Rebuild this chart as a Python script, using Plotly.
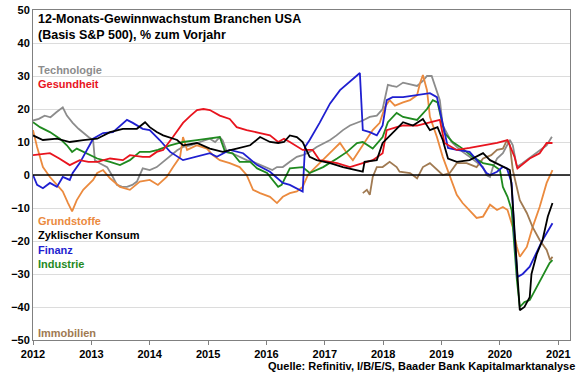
import plotly.graph_objects as go

# ---- data: (decimal year, % y/y) ----
tech_t = [2012.00, 2012.10, 2012.20, 2012.30, 2012.40, 2012.51, 2012.58, 2012.68, 2012.78, 2012.86, 2012.95,
          2013.03, 2013.06, 2013.15, 2013.27, 2013.35, 2013.44, 2013.52, 2013.61, 2013.70, 2013.78, 2013.88,
          2014.00, 2014.12, 2014.23, 2014.35, 2014.47, 2014.57, 2014.70, 2014.81, 2014.95, 2015.03, 2015.12,
          2015.20, 2015.25, 2015.32, 2015.42, 2015.54, 2015.66, 2015.77, 2015.89, 2016.01, 2016.10, 2016.18,
          2016.28, 2016.40, 2016.52, 2016.62, 2016.74, 2016.86, 2016.97, 2017.09, 2017.20, 2017.31, 2017.43,
          2017.55, 2017.65, 2017.77, 2017.89, 2017.99, 2018.03, 2018.08, 2018.15, 2018.23, 2018.34, 2018.46,
          2018.58, 2018.68, 2018.75, 2018.83, 2018.90, 2018.97, 2019.02, 2019.09, 2019.17, 2019.26, 2019.36,
          2019.48, 2019.60, 2019.71, 2019.77, 2019.83, 2019.88, 2019.95, 2020.05, 2020.12, 2020.17, 2020.22,
          2020.29, 2020.38, 2020.51, 2020.60, 2020.72, 2020.80, 2020.89]
tech_v = [16.5, 17, 18, 17.5, 19, 20.5, 18, 15.8, 14, 12.7, 11.5,
          10.6, 4.5, 3.5, 2.4, 0, -3, -3.5, -3.6, -3, -2, 2,
          1.5, 2.4, 4, 6, 7.5, 8.5, 9, 9.7, 10.5, 11, 10,
          11.5, 10.5, 7, 6.5, 5.5, 4.5, 4, 3, 2, 1.5, 2.4,
          2.4, 4, 5.5, 6, 7, 8.5, 9.5, 10.6, 12, 13.6, 15,
          15.8, 16.5, 17.6, 18, 20, 23.6, 27.3, 27, 26.7, 28, 27.5,
          27, 28.5, 30, 30, 26, 22.7, 15, 12.7, 10, 8.5, 7,
          5.5, 4, 2.4, 0, -0.6, 2.4, 5, 6.6, 9, 10.6, 9,
          2.4, 3.5, 5.2, 6.5, 8.2, 9, 11.6]

health_t = [2012.00, 2012.15, 2012.29, 2012.45, 2012.63, 2012.80, 2012.95, 2013.10, 2013.32, 2013.54, 2013.66,
            2013.88, 2014.00, 2014.12, 2014.23, 2014.40, 2014.57, 2014.70, 2014.81, 2014.92, 2015.03, 2015.20,
            2015.37, 2015.49, 2015.66, 2015.89, 2016.06, 2016.20, 2016.30, 2016.40, 2016.62, 2016.79, 2016.91,
            2017.21, 2017.43, 2017.65, 2017.82, 2017.99, 2018.06, 2018.23, 2018.34, 2018.58, 2018.80, 2018.97,
            2019.05, 2019.26, 2019.48, 2019.71, 2019.95, 2020.13, 2020.25, 2020.30, 2020.51, 2020.68, 2020.80,
            2020.90]
health_v = [6, 6.3, 6.6, 5, 3, 4.5, 4, 4, 5, 4.5, 6,
            5.5, 5.5, 7, 7.6, 11.6, 15.8, 18, 19.7, 20, 19.7, 18,
            17, 14.5, 13.6, 12.7, 12, 10, 11, 10, 7.6, 7.6, 4.5,
            3.6, 2.4, 3.6, 4.5, 6.6, 13.6, 14.5, 15, 15, 16, 16.7,
            9.7, 7.6, 8.2, 9, 9.7, 10.6, 5.5, 2, 5, 6.6, 9.7,
            9.7]

cons_t = [2012.00, 2012.17, 2012.41, 2012.63, 2012.86, 2013.10, 2013.32, 2013.54, 2013.78, 2013.92, 2014.00,
          2014.12, 2014.23, 2014.47, 2014.57, 2014.81, 2015.03, 2015.25, 2015.49, 2015.72, 2015.89, 2016.06,
          2016.20, 2016.30, 2016.40, 2016.52, 2016.62, 2016.74, 2016.86, 2017.09, 2017.31, 2017.55, 2017.65,
          2017.68, 2017.89, 2017.99, 2018.11, 2018.23, 2018.34, 2018.51, 2018.68, 2018.80, 2018.93, 2019.02,
          2019.11, 2019.26, 2019.48, 2019.71, 2019.83, 2020.05, 2020.17, 2020.20, 2020.29, 2020.34, 2020.42,
          2020.51, 2020.54, 2020.63, 2020.73, 2020.82, 2020.90]
cons_v = [12, 10.6, 11, 10, 10.6, 11, 13, 14, 14, 16, 14.5,
          13, 12, 10.6, 9, 9.7, 8, 7, 8, 9, 11.5, 10,
          9.7, 10, 12, 11.5, 10, 5.5, 4.5, 3.6, 2.4, 1.5, 1,
          4, 4.5, 9.7, 12, 14, 16, 15, 17, 13.6, 14.5, 10.6,
          5, 4, 4.5, 6.6, 4.5, 2.4, 1.5, -3.6, -26, -41, -40,
          -37, -30, -24, -19.7, -12.6, -8.5]

fin_t = [2012.00, 2012.07, 2012.17, 2012.29, 2012.41, 2012.51, 2012.63, 2012.68, 2012.80, 2012.92, 2013.03,
         2013.20, 2013.37, 2013.61, 2013.71, 2013.88, 2014.00, 2014.17, 2014.35, 2014.57, 2014.81, 2015.03,
         2015.15, 2015.37, 2015.60, 2015.84, 2016.06, 2016.20, 2016.28, 2016.40, 2016.52, 2016.62, 2016.66,
         2016.74, 2016.91, 2017.09, 2017.26, 2017.43, 2017.60, 2017.65, 2017.77, 2017.89, 2017.99, 2018.06,
         2018.16, 2018.34, 2018.58, 2018.80, 2018.92, 2019.02, 2019.11, 2019.26, 2019.48, 2019.65, 2019.77,
         2019.83, 2019.95, 2020.05, 2020.12, 2020.20, 2020.25, 2020.30, 2020.39, 2020.51, 2020.63, 2020.73,
         2020.90]
fin_v = [0, -3, -4, -2.4, -3.6, -0.6, -1.5, 0.6, 3.6, 7.6, 11,
         12.7, 13, 16.7, 15.8, 14, 13.6, 10.6, 7, 4.5, 5.5, 6.6,
         5.5, 7.6, 6.6, 3, 1, -1, -2.4, -3, -4, -5, 8.5,
         10.6, 15.8, 21.7, 25.7, 28.2, 30.9, 13.6, 13, 12, 15, 22.7,
         23.6, 23.6, 24.2, 24.8, 23.6, 15.8, 8.2, 7.6, 7, 3.6, 0.6,
         0, 1, 2.5, 2, -2.4, -18.8, -30.9, -30, -27.8, -23.6, -19.7,
         -14.6]

ind_t = [2012.00, 2012.12, 2012.29, 2012.46, 2012.58, 2012.67, 2012.75, 2012.92, 2013.10, 2013.32, 2013.49,
         2013.66, 2013.83, 2014.00, 2014.14, 2014.35, 2014.57, 2014.81, 2015.03, 2015.20, 2015.29, 2015.42,
         2015.54, 2015.72, 2015.84, 2016.01, 2016.20, 2016.26, 2016.40, 2016.62, 2016.74, 2016.97, 2017.21,
         2017.38, 2017.55, 2017.65, 2017.82, 2017.99, 2018.08, 2018.23, 2018.34, 2018.58, 2018.75, 2018.85,
         2018.93, 2019.05, 2019.19, 2019.36, 2019.53, 2019.71, 2019.88, 2020.00, 2020.05, 2020.13, 2020.20,
         2020.29, 2020.34, 2020.42, 2020.51, 2020.63, 2020.73, 2020.85, 2020.90]
ind_v = [16, 14.5, 13, 11, 9, 7, 8, 6.6, 5, 4, 3,
         4.5, 7, 7, 7.6, 9, 10, 10.6, 11, 11.5, 7, 6.6,
         4, 4, 2, 0.6, -3.6, -3, 2, 2.4, 0.6, 2.4, 5,
         7, 9.7, 10, 8, 11.5, 16, 18.8, 17.6, 16.7, 20, 22.7,
         22, 12.7, 10, 8, 5.5, 3.6, 3, 1.5, -3.6, -6.6, -10.6,
         -31.8, -40, -38.5, -37.9, -33.9, -30.3, -26.7, -25.8]

mat_t = [2012.00, 2012.07, 2012.17, 2012.29, 2012.41, 2012.51, 2012.60, 2012.67, 2012.75, 2012.86, 2013.03,
         2013.10, 2013.20, 2013.32, 2013.49, 2013.66, 2013.83, 2014.00, 2014.14, 2014.29, 2014.40, 2014.52,
         2014.57, 2014.64, 2014.81, 2014.98, 2015.08, 2015.20, 2015.37, 2015.54, 2015.66, 2015.77, 2015.89,
         2016.06, 2016.18, 2016.28, 2016.40, 2016.52, 2016.62, 2016.71, 2016.79, 2016.97, 2017.14, 2017.26,
         2017.38, 2017.48, 2017.60, 2017.72, 2017.82, 2017.94, 2018.03, 2018.11, 2018.20, 2018.34, 2018.46,
         2018.58, 2018.63, 2018.68, 2018.75, 2018.80, 2018.92, 2019.02, 2019.14, 2019.26, 2019.36, 2019.48,
         2019.60, 2019.71, 2019.83, 2019.95, 2020.05, 2020.13, 2020.22, 2020.29, 2020.34, 2020.46, 2020.56,
         2020.68, 2020.80, 2020.90]
mat_v = [13.6, 8.5, 2.4, -0.6, -3, -5, -8.5, -11, -7.6, -4.5, -1.5,
         0.6, 1.5, -1, -3.6, -4.5, -2, -1.5, -3, -0.6, 2.4, 5.5,
         11.5, 7.6, 9, 8, 6, 4.5, 3.6, 2.4, 0, -4.5, -5.5,
         -6.6, -8.5, -6.6, -5.5, -5, -3.6, 0, 1.5, 4.5, 7.6, 9.7,
         6.6, 4.5, 7.6, 11, 13.6, 15.8, 20.6, 22.7, 21, 22, 22.7,
         24.2, 27.8, 30.3, 25.7, 17.6, 11.5, 5.5, 0, -6, -8.5, -10.6,
         -13, -12.6, -9, -10.6, -9.7, -10.6, -15.8, -21.8, -24.8, -21.8, -15.8,
         -9.7, -2.4, 1.5]

re_t = [2017.65, 2017.72, 2017.77, 2017.82, 2017.89, 2017.99, 2018.11, 2018.23, 2018.28, 2018.46, 2018.58,
        2018.68, 2018.80, 2018.92, 2019.02, 2019.14, 2019.26, 2019.43, 2019.60, 2019.71, 2019.85, 2019.95,
        2020.05, 2020.12, 2020.17, 2020.22, 2020.34, 2020.46, 2020.56, 2020.68, 2020.80, 2020.86, 2020.90]
re_v = [-5.5, -4.5, -6, -0.6, 2.4, 2.4, 4, 2.4, 1, 0.6, -1,
        2.4, 3.6, 1.5, 0, 0.6, 3.6, 3.6, 2.4, 5, 6, 7.6,
        8, 10.6, 9, 1.5, -7.6, -11.5, -15.8, -19.7, -22.7, -25.8, -24.8]

year_ticks = [2012, 2013, 2014, 2015, 2016, 2017, 2018, 2019, 2020, 2021]
y_ticks = [50, 40, 30, 20, 10, 0, -10, -20, -30, -40, -50]

C_TECH = "#8C8C8C"
C_HEALTH = "#E8141E"
C_MAT = "#EB8A3E"
C_CONS = "#000000"
C_FIN = "#1F1FD0"
C_IND = "#1F8A1F"
C_RE = "#A07A52"

FONT = "Liberation Sans"

series = [
    ("Technologie", tech_t, tech_v, C_TECH),
    ("Grundstoffe", mat_t, mat_v, C_MAT),
    ("Immobilien", re_t, re_v, C_RE),
    ("Industrie", ind_t, ind_v, C_IND),
    ("Finanz", fin_t, fin_v, C_FIN),
    ("Gesundheit", health_t, health_v, C_HEALTH),
    ("Zyklischer Konsum", cons_t, cons_v, C_CONS),
]

fig = go.Figure()
for name, t, v, c in series:
    fig.add_trace(go.Scatter(x=t, y=v, mode="lines", name=name,
                             line=dict(color=c, width=1.8), showlegend=False))

# zero line
fig.add_shape(type="line", xref="paper", yref="y", x0=0, x1=1, y0=0, y1=0,
              line=dict(color="black", width=1.6), layer="above")

W, H = 580, 375
L, R, T, B = 33, 10, 10, 35
pw, ph = W - L - R, H - T - B

def px(x):
    return (x - L) / pw

def py(y):
    return (H - B - y) / ph

labels = [
    ("12-Monats-Gewinnwachstum Branchen USA", 36, 19, "#000000", 12.5),
    ("(Basis S&amp;P 500), % zum Vorjahr", 36, 35, "#000000", 12.5),
    ("Technologie", 36, 70, C_TECH, 11),
    ("Gesundheit", 36, 84, C_HEALTH, 11),
    ("Grundstoffe", 36, 221, C_MAT, 11),
    ("Zyklischer Konsum", 36, 235, C_CONS, 11),
    ("Finanz", 36, 250, C_FIN, 11),
    ("Industrie", 36, 264, C_IND, 11),
    ("Immobilien", 36, 333, C_RE, 11),
]
for text, x, y, col, sz in labels:
    fig.add_annotation(text=text, x=px(x), y=py(y), xref="paper", yref="paper",
                       xanchor="left", yanchor="middle", showarrow=False,
                       font=dict(family=FONT, size=sz, color=col, weight="bold"))

fig.add_annotation(text="Quelle: Refinitiv, I/B/E/S, Baader Bank Kapitalmarktanalyse",
                   x=px(577), y=py(366), xref="paper", yref="paper",
                   xanchor="right", yanchor="middle", showarrow=False,
                   font=dict(family=FONT, size=11, color="#000000", weight="bold"))

fig.update_layout(
    width=W, height=H,
    margin=dict(l=L, r=R, t=T, b=B, autoexpand=False),
    paper_bgcolor="white", plot_bgcolor="white",
    font=dict(family=FONT, color="black"),
    xaxis=dict(range=[2012, 2021.2], tickvals=year_ticks, ticktext=[str(y) for y in year_ticks],
               showgrid=False, zeroline=False, showline=True, linecolor="#808080", linewidth=1,
               mirror=True, ticks="outside", ticklen=4, tickcolor="#808080", automargin=False,
               tickfont=dict(family=FONT, size=11, color="black", weight="bold")),
    yaxis=dict(range=[-50, 50], tickvals=y_ticks, showgrid=True, gridcolor="#DCDCDC", gridwidth=1,
               zeroline=False, showline=True, linecolor="#808080", linewidth=1, mirror=True,
               ticks="", automargin=False,
               tickfont=dict(family=FONT, size=11, color="black", weight="bold")),
)

fig.write_html("out.html", config={"displayModeBar": False},
               post_script="document.body.style.margin='0';document.body.style.overflow='hidden';")
